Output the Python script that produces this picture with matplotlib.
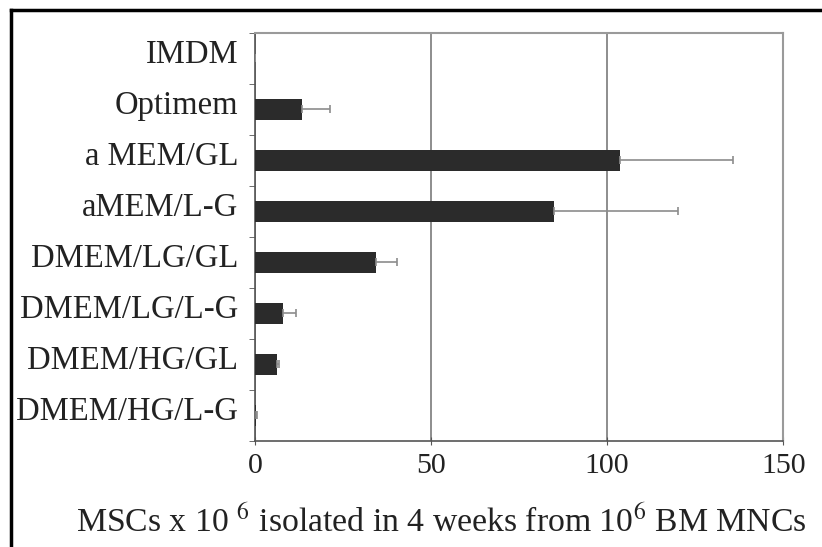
import matplotlib.pyplot as plt
from matplotlib.lines import Line2D
import matplotlib.transforms as mtransforms

# media tested, top to bottom
media = ["IMDM", "Optimem", "a MEM/GL", "aMEM/L-G", "DMEM/LG/GL",
         "DMEM/LG/L-G", "DMEM/HG/GL", "DMEM/HG/L-G"]
msc_yield = [0, 13.5, 103.5, 85, 34.4, 8.1, 6.4, 0.3]
msc_err = [0, 7.8, 32.3, 35, 5.9, 3.5, 0.5, 0.2]

plt.rcParams["font.family"] = ["Liberation Serif", "DejaVu Serif"]
plt.rcParams["mathtext.fontset"] = "stix"

fig = plt.figure(figsize=(8.22, 5.47), dpi=100)
ax = fig.add_axes([0.310, 0.194, 0.643, 0.746])

ypos = list(range(len(media)))
ax.barh(ypos, msc_yield, height=0.42, color="#2b2b2b", zorder=3)
ax.errorbar(msc_yield, ypos, xerr=[[0] * len(msc_err), msc_err],
            fmt="none", ecolor="#8c8c8c", elinewidth=1.2, capsize=3,
            capthick=1.2, zorder=4)

ax.set_xlim(0, 150)
ax.set_ylim(len(media) - 0.5, -0.5)
ax.set_xticks([0, 50, 100, 150])
ax.set_yticks(ypos)
ax.set_yticklabels(media, fontsize=23.5, color="#222222")
ax.set_yticks([i + 0.5 for i in range(-1, len(media))], minor=True)
ax.tick_params(axis="y", which="major", length=0, pad=12)
ax.tick_params(axis="y", which="minor", length=4, direction="out", color="#555555")
ax.tick_params(axis="x", labelsize=21.5, length=6, direction="inout",
               color="#555555", labelcolor="#222222", pad=6)

# nudge y labels up a little, like the original
offset = mtransforms.ScaledTranslation(0, 0.07, fig.dpi_scale_trans)
for lbl in ax.get_yticklabels():
    lbl.set_transform(lbl.get_transform() + offset)

ax.xaxis.grid(True, color="#7a7a7a", linewidth=1.2, zorder=0)
for side in ["top", "right"]:
    ax.spines[side].set_color("#9a9a9a")
    ax.spines[side].set_linewidth(1.5)
for side in ["left", "bottom"]:
    ax.spines[side].set_color("#555555")
    ax.spines[side].set_linewidth(1.2)

fig.text(0.537, 0.046,
         r"MSCs x 10 $^{6}$ isolated in 4 weeks from 10$^{6}$ BM MNCs",
         fontsize=24.3, color="#222222", ha="center", va="center")

# frame lines of the original figure panel
fig.add_artist(Line2D([0.013, 0.013], [0, 0.982], transform=fig.transFigure,
                      color="black", linewidth=2.5))
fig.add_artist(Line2D([0.013, 1.0], [0.982, 0.982], transform=fig.transFigure,
                      color="black", linewidth=2.5))

fig.savefig("out.png", dpi=100)
